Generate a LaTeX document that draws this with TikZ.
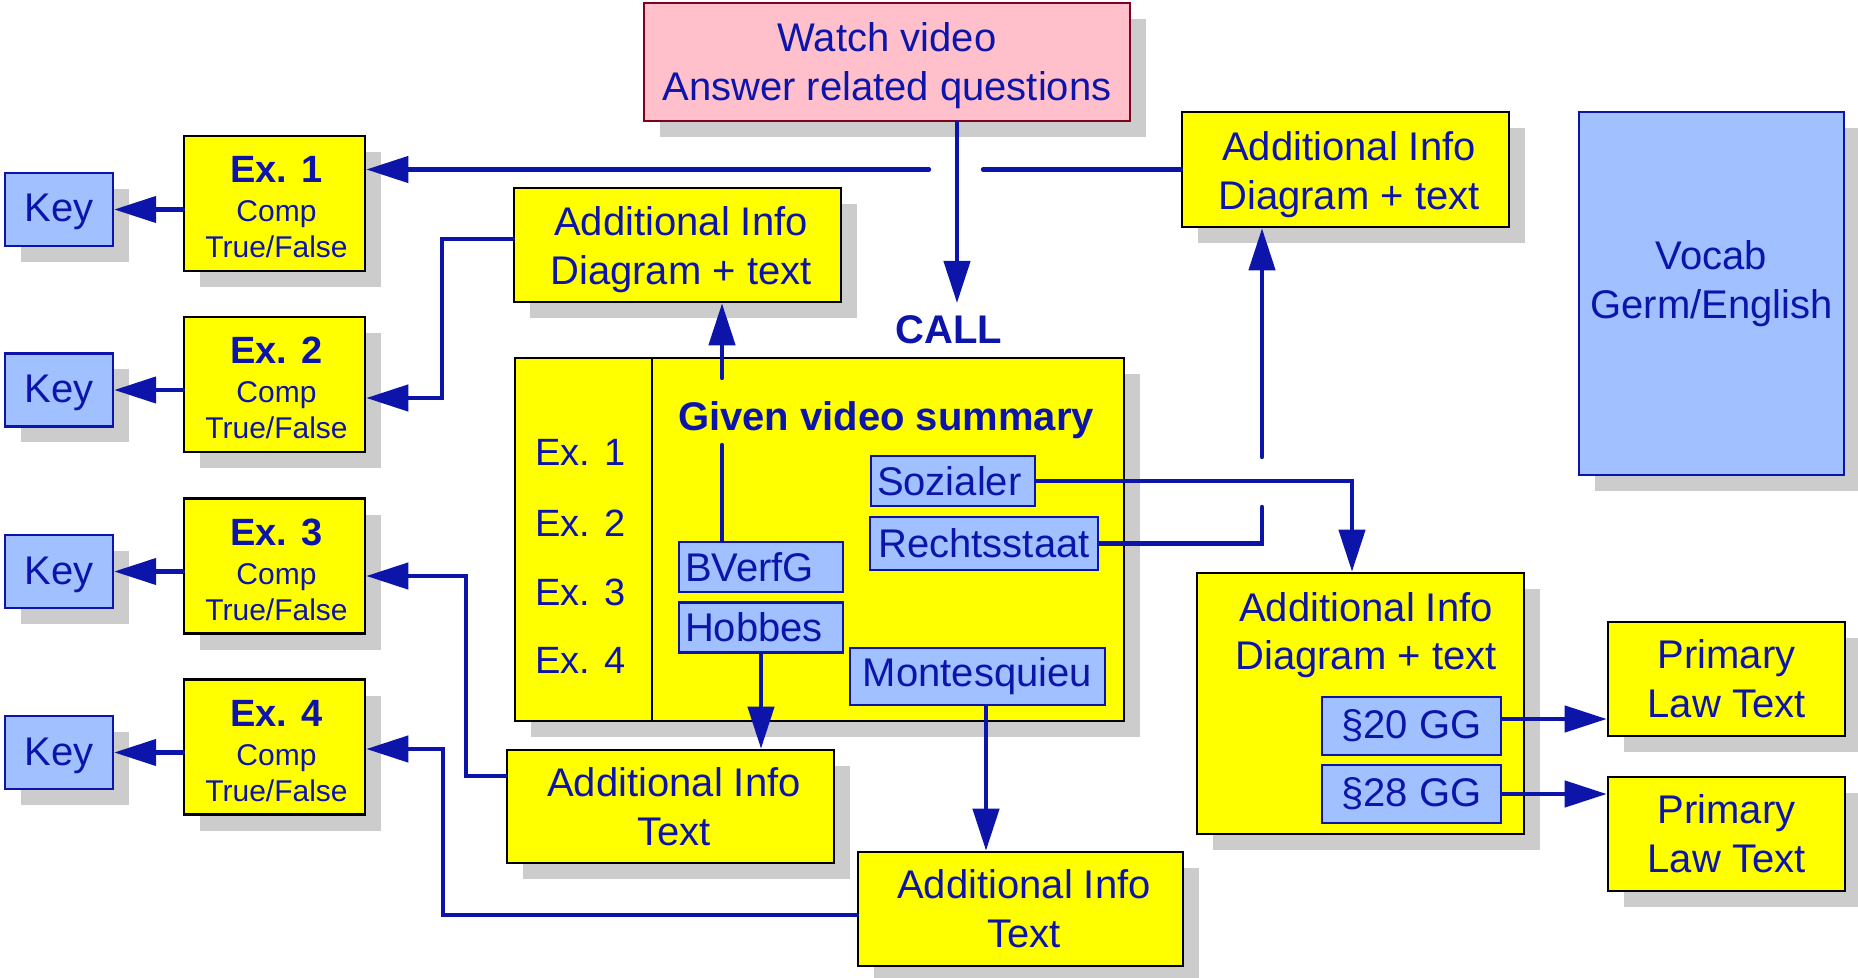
\documentclass[tikz,border=0pt]{standalone}
\usepackage{fontspec}
\setmainfont{Liberation Sans}
\usetikzlibrary{arrows.meta,shadows}
\definecolor{dblue}{RGB}{12,20,170}
\definecolor{yfill}{RGB}{255,255,0}
\definecolor{bfill}{RGB}{160,192,255}
\definecolor{pfill}{RGB}{255,192,203}
\definecolor{wred}{RGB}{128,0,32}
\definecolor{shgray}{RGB}{204,204,204}
\newcommand{\hsft}{\hspace*{3.5pt}}
\newcommand{\esft}{\hspace*{2pt}}
\begin{document}
\begin{tikzpicture}[x=0.5pt,y=-0.5pt,
  shad/.style={drop shadow={shadow xshift=8pt,shadow yshift=-8pt,fill=shgray,opacity=1}},
  ybox/.style={draw=black,line width=1.3pt,fill=yfill,shad,text=dblue,align=center,inner sep=0pt,font=\fontsize{20}{24.5}\selectfont},
  exbox/.style={ybox,font=\fontsize{15}{18}\selectfont},
  bbox/.style={draw=dblue,line width=1.2pt,fill=bfill,text=dblue,inner sep=0pt,font=\fontsize{20}{24.5}\selectfont},
  kbox/.style={bbox,shad},
  keybox/.style={kbox,minimum width=54pt,minimum height=36.5pt,text height=16.7pt,text depth=4.2pt},
  ln/.style={draw=dblue,line width=2.2pt,line cap=round},
  arr/.style={ln,-{Triangle[length=21pt,width=13pt]}},
  lbl/.style={text=dblue,inner sep=0pt,font=\fontsize{20}{24}\selectfont}
]
\useasboundingbox (0,0) rectangle (1858,978);

% top
\node[ybox,fill=pfill,draw=wred,minimum width=243pt,minimum height=59pt] (watch) at (887,62) {\rule{0pt}{18.1pt}Watch video\\Answer related questions};

% exercise boxes
\node[exbox,minimum width=90.5pt,minimum height=67.5pt] (ex1) at (274.5,203.5) {\esft{\fontsize{19}{19}\selectfont\bfseries\rule{0pt}{17.1pt}Ex. 1}\\[1.5pt]\esft Comp\\\esft True/False};
\node[exbox,minimum width=90.5pt,minimum height=67.5pt] (ex2) at (274.5,384.5) {\esft{\fontsize{19}{19}\selectfont\bfseries\rule{0pt}{17.1pt}Ex. 2}\\[1.5pt]\esft Comp\\\esft True/False};
\node[exbox,minimum width=90.5pt,minimum height=67.5pt] (ex3) at (274.5,566) {\esft{\fontsize{19}{19}\selectfont\bfseries\rule{0pt}{17.1pt}Ex. 3}\\[1.5pt]\esft Comp\\\esft True/False};
\node[exbox,minimum width=90.5pt,minimum height=67.5pt] (ex4) at (274.5,747) {\esft{\fontsize{19}{19}\selectfont\bfseries\rule{0pt}{17.1pt}Ex. 4}\\[1.5pt]\esft Comp\\\esft True/False};

% keys
\node[keybox] (key1) at (59,209.5) {Key};
\node[keybox] (key2) at (59,390) {Key};
\node[keybox] (key3) at (59,571.5) {Key};
\node[keybox] (key4) at (59,752.5) {Key};

% additional info boxes
\node[ybox,minimum width=163.5pt,minimum height=57pt] (addTM) at (677.5,245) {\hsft\rule{0pt}{19.6pt}Additional Info\\\hsft Diagram + text};
\node[ybox,minimum width=163.5pt,minimum height=57.5pt] (addTR) at (1345.5,169.5) {\hsft\rule{0pt}{19.6pt}Additional Info\\\hsft Diagram + text};
\node[ybox,minimum width=163.5pt,minimum height=56.5pt] (addTM2) at (670.5,806.5) {\hsft Additional Info\\\hsft Text};
\node[ybox,minimum width=162.5pt,minimum height=57pt] (addTB) at (1020.5,909) {\hsft Additional Info\\\hsft Text};

% vocab
\node[kbox,align=center,minimum width=132.5pt,minimum height=181.5pt] (vocab) at (1711.5,293.5) {Vocab\\Germ/English\\[-11pt]\mbox{}};

% main box
\node[draw=black,line width=1.2pt,fill=yfill,shad,minimum width=304.5pt,minimum height=181.5pt,inner sep=0pt] (main) at (819.5,539.5) {};
\coordinate (dv) at (652,0);
\draw[black,line width=1.2pt] (main.north -| dv) -- (main.south -| dv);
\node[lbl,anchor=west,font=\fontsize{19}{19}\selectfont] (m1) at (535,452) {Ex. 1};
\node[lbl,anchor=west,font=\fontsize{19}{19}\selectfont] (m2) at (535,523) {Ex. 2};
\node[lbl,anchor=west,font=\fontsize{19}{19}\selectfont] (m3) at (535,592) {Ex. 3};
\node[lbl,anchor=west,font=\fontsize{19}{19}\selectfont] (m4) at (535,660) {Ex. 4};
\node[lbl,font=\fontsize{20}{24}\selectfont\bfseries] (given) at (886,420) {Given video summary};
\node[lbl,font=\fontsize{20}{24}\selectfont\bfseries] (call) at (949,330) {CALL};

\node[bbox,minimum width=82pt,minimum height=25pt,text width=76pt,align=left] (bverfg) at (761,567) {BVerfG};
\node[bbox,minimum width=82pt,minimum height=25pt,text width=76pt,align=left] (hobbes) at (761,627.5) {Hobbes};
\node[bbox,minimum width=82pt,minimum height=25pt,text width=76pt,align=left] (soz) at (953,481) {Sozialer};
\node[bbox,minimum width=114pt,minimum height=26.5pt] (rs) at (984,543.5) {Rechtsstaat};
\node[bbox,minimum width=127.5pt,minimum height=28.5pt] (mont) at (977.5,676.5) {Montesquieu};

% bottom right
\node[draw=black,line width=1.3pt,fill=yfill,shad,minimum width=163.5pt,minimum height=130.5pt,inner sep=0pt] (addRB) at (1360.5,703.5) {};
\node[lbl,align=center] (addRBt) at (1366,635) {Additional Info\\Diagram + text};
\node[bbox,minimum width=89.5pt,minimum height=29pt] (p20) at (1411.5,726) {§20 GG};
\node[bbox,minimum width=89.5pt,minimum height=29pt] (p28) at (1411.5,794) {§28 GG};
\node[ybox,minimum width=118.5pt,minimum height=57pt] (prim1) at (1726.5,679) {Primary\\Law Text};
\node[ybox,minimum width=118.5pt,minimum height=57pt] (prim2) at (1726.5,834) {Primary\\Law Text};

% connectors
\coordinate (calltip) at (957,303);
\draw[arr] (watch.south -| calltip) -- (calltip);

\coordinate (gR) at (983,169.5);
\coordinate (gL) at (929,169.5);
\draw[ln] (addTR.west) -- (gR);
\draw[arr] (gL) -- (gL -| ex1.east);

\coordinate (g1) at (722,378);
\coordinate (g2) at (722,445);
\draw[arr] (g1) -- (g1 |- addTM.south);
\draw[ln] (g2) -- (g2 |- bverfg.north);

\coordinate (c2) at (442,398);
\draw[arr] ([yshift=3pt]addTM.west) -| (c2) -- (c2 -| ex2.east);

\coordinate (c3) at (466,576);
\draw[arr] ([yshift=15.25pt]addTM2.west) -| (c3) -- (c3 -| ex3.east);

\coordinate (c4) at (443,749);
\draw[arr] ([yshift=-3pt]addTB.west) -| (c4) -- (c4 -| ex4.east);

\draw[arr] (ex1.west |- key1.east) -- (key1.east);
\draw[arr] (ex2.west |- key2.east) -- (key2.east);
\draw[arr] (ex3.west |- key3.east) -- (key3.east);
\draw[arr] (ex4.west |- key4.east) -- (key4.east);

\draw[arr] (hobbes.south) -- (hobbes.south |- addTM2.north);
\coordinate (mx) at (986,0);
\draw[arr] (mont.south -| mx) -- (addTB.north -| mx);

\draw[arr] (soz.east) -| ([xshift=-4.25pt]addRB.north);

\coordinate (r1) at (1262,507);
\coordinate (r2) at (1262,457);
\draw[ln] (rs.east) -- (rs.east -| r1) -- (r1);
\draw[arr] (r2) -- (r2 |- addTR.south);

\draw[arr] ([yshift=3.5pt]p20.east) -- ([yshift=3.5pt]p20.east -| prim1.west);
\draw[arr] (p28.east) -- (p28.east -| prim2.west);
\end{tikzpicture}
\end{document}
